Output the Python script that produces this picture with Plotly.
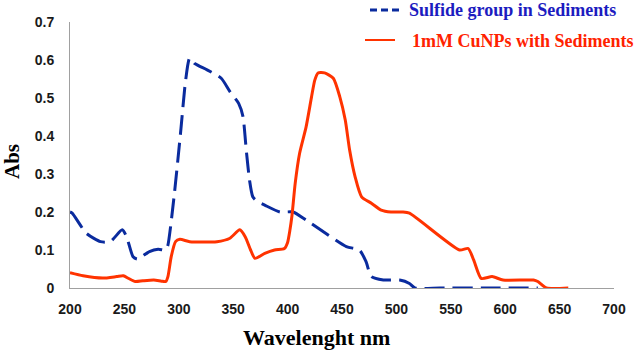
import plotly.graph_objects as go

# Sulfide group in Sediments (blue dashed)
sulfide_x = [200, 202, 215, 228, 237, 248, 252, 258, 262, 273, 281, 288, 290, 296, 302, 306, 310, 315,
             326, 339, 347, 355, 359, 362, 365, 368, 372, 379, 393, 405, 417, 454, 466, 472, 477, 488,
             503, 512, 517, 540, 580, 630]
sulfide_y = [0.20, 0.197, 0.144, 0.122, 0.122, 0.153, 0.135, 0.082, 0.076, 0.096, 0.102, 0.10, 0.113,
             0.25, 0.42, 0.54, 0.605, 0.59, 0.574, 0.552, 0.517, 0.486, 0.451, 0.363, 0.284, 0.24,
             0.228, 0.218, 0.20, 0.20, 0.179, 0.109, 0.10, 0.07, 0.03, 0.021, 0.021, 0.012, 0.0, 0.0,
             0.0, 0.0]

# 1mM CuNPs with Sediments (red solid)
cunp_x = [200, 212, 230, 243, 249, 254, 260, 267, 277, 284, 288, 290, 293, 297, 301, 310, 335, 347,
          356, 361, 366, 370, 379, 388, 397, 400, 402, 404, 407, 411, 417, 422, 425, 428, 434, 442,
          448, 453, 457, 462, 468, 477, 486, 495, 506, 512, 558, 566, 571, 578, 588, 598, 626, 630,
          638, 658]
cunp_y = [0.04, 0.032, 0.026, 0.03, 0.032, 0.025, 0.017, 0.019, 0.021, 0.018, 0.017, 0.03, 0.082,
          0.122, 0.128, 0.122, 0.122, 0.131, 0.153, 0.135, 0.10, 0.078, 0.091, 0.10, 0.104, 0.12,
          0.15, 0.19, 0.276, 0.354, 0.424, 0.503, 0.547, 0.566, 0.566, 0.552, 0.503, 0.442, 0.363,
          0.293, 0.24, 0.223, 0.205, 0.20, 0.20, 0.197, 0.10, 0.104, 0.074, 0.025, 0.03, 0.021,
          0.021, 0.017, 0.0, 0.0]

series_names = ["Sulfide group in Sediments", "1mM CuNPs with Sediments"]

x_ticks = [200, 250, 300, 350, 400, 450, 500, 550, 600, 650, 700]
y_ticks = [0, 0.1, 0.2, 0.3, 0.4, 0.5, 0.6, 0.7]
y_tick_text = ["0", "0.1", "0.2", "0.3", "0.4", "0.5", "0.6", "0.7"]

BLUE = "#0A2B9E"
RED = "#FF3300"
SERIF = "Liberation Serif, Times New Roman, serif"
SANS = "Liberation Sans, Arial, sans-serif"

# plot area in pixels: x 70..614, y 22..288
L, R, T, B = 70, 614, 22, 288


def px(xp):
    return (xp - L) / (R - L)


def py(yp):
    return (B - yp) / (B - T)


fig = go.Figure()
fig.add_trace(go.Scatter(
    x=sulfide_x, y=sulfide_y, mode="lines", name=series_names[0],
    line=dict(color=BLUE, width=3, dash="20px,8px", shape="spline", smoothing=0.6),
))
fig.add_trace(go.Scatter(
    x=cunp_x, y=cunp_y, mode="lines", name=series_names[1],
    line=dict(color=RED, width=3, shape="spline", smoothing=0.6),
))

shapes = [
    dict(type="line", xref="paper", yref="paper", x0=px(370), x1=px(400), y0=py(10), y1=py(10),
         line=dict(color=BLUE, width=3, dash="7px,4px")),
    dict(type="line", xref="paper", yref="paper", x0=px(365), x1=px(395), y0=py(40), y1=py(40),
         line=dict(color=RED, width=2)),
]

annotations = [
    dict(text="<b>Wavelenght nm</b>", xref="paper", yref="paper", x=px(316), y=py(337),
         xanchor="center", yanchor="middle", showarrow=False,
         font=dict(family=SERIF, size=22, color="black")),
    dict(text="<b>Abs</b>", xref="paper", yref="paper", x=px(12), y=py(162),
         xanchor="center", yanchor="middle", showarrow=False, textangle=-90,
         font=dict(family=SERIF, size=21, color="black")),
    dict(text="<b>" + series_names[0] + "</b>", xref="paper", yref="paper", x=px(407), y=py(10),
         xanchor="left", yanchor="middle", showarrow=False,
         font=dict(family=SERIF, size=18, color="#1C1CC0")),
    dict(text="<b>" + series_names[1] + "</b>", xref="paper", yref="paper", x=px(410), y=py(41),
         xanchor="left", yanchor="middle", showarrow=False,
         font=dict(family=SERIF, size=18, color="#FF2200")),
]

fig.update_layout(
    width=640, height=350,
    margin=dict(l=L, r=640 - R, t=T, b=350 - B, autoexpand=False),
    paper_bgcolor="white", plot_bgcolor="white",
    showlegend=False,
    shapes=shapes,
    annotations=annotations,
    xaxis=dict(range=[200, 700], tickvals=x_ticks, showgrid=False, zeroline=False,
               showline=True, linecolor="#A0A0A0", linewidth=1, ticks="",
               ticklabelstandoff=8,
               tickfont=dict(family=SANS, size=14, color="#1a1a1a", weight="bold")),
    yaxis=dict(range=[0, 0.7], tickvals=y_ticks, ticktext=y_tick_text, showgrid=False,
               zeroline=False, showline=True, linecolor="#A0A0A0", linewidth=1, ticks="",
               ticklabelstandoff=12,
               tickfont=dict(family=SANS, size=14, color="#1a1a1a", weight="bold")),
)

fig.write_html("out.html")
